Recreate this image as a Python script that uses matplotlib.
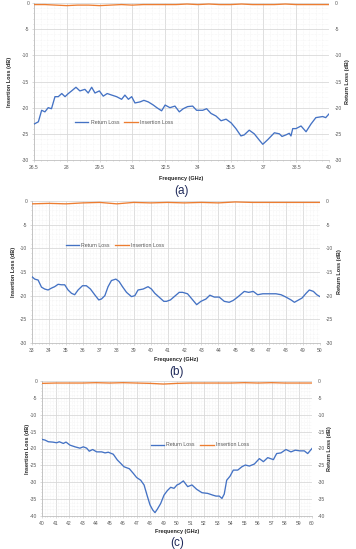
import matplotlib
matplotlib.use("Agg")
import matplotlib.pyplot as plt
import numpy as np
from matplotlib.ticker import MultipleLocator, AutoMinorLocator

plt.rcParams['axes.unicode_minus'] = False
plt.rcParams['font.family'] = ['Liberation Sans', 'DejaVu Sans']

# ---------------- Panel (a) ----------------
freq_a = [26.52, 26.7, 26.85, 27.0, 27.15, 27.3, 27.46, 27.61, 27.77, 27.92, 28.07, 28.22, 28.42,
          28.6, 28.83, 28.98, 29.14, 29.29, 29.49, 29.67, 29.85, 30.06, 30.28, 30.51, 30.66, 30.82,
          30.97, 31.12, 31.35, 31.53, 31.73, 31.96, 32.12, 32.34, 32.5, 32.72, 32.95, 33.15, 33.33,
          33.53, 33.76, 33.94, 34.22, 34.4, 34.6, 34.83, 35.06, 35.29, 35.52, 35.74, 35.97, 36.12,
          36.35, 36.58, 36.81, 36.97, 37.2, 37.5, 37.73, 37.85, 38.03, 38.18, 38.26, 38.34, 38.49,
          38.72, 38.95, 39.18, 39.4, 39.71, 39.85, 40.0]
rl_a = [-23.1, -22.7, -20.5, -20.8, -20.0, -20.2, -17.9, -17.9, -17.3, -17.9, -17.3, -16.8, -16.1,
        -16.8, -16.5, -17.2, -16.1, -17.2, -16.8, -17.8, -17.3, -17.6, -17.9, -18.4, -17.6, -18.4,
        -17.9, -19.1, -18.9, -18.6, -18.9, -19.5, -20.0, -20.6, -19.5, -20.0, -19.7, -20.8, -20.2,
        -19.8, -19.7, -20.5, -20.5, -20.2, -21.1, -21.6, -22.5, -22.2, -22.9, -24.0, -25.4, -25.2,
        -24.3, -25.0, -26.2, -27.0, -26.1, -24.8, -25.0, -25.5, -25.2, -24.9, -25.4, -24.0, -24.0,
        -23.5, -24.6, -23.1, -21.9, -21.7, -21.9, -21.2]
il_freq_a = [26.5, 27.0, 27.5, 28.0, 28.5, 29.0, 29.5, 30.0, 30.5, 31.0, 31.5, 32.0, 32.5, 33.0,
             33.5, 34.0, 34.5, 35.0, 35.5, 36.0, 36.5, 37.0, 37.5, 38.0, 38.5, 39.0, 39.5, 40.0]
il_a = [-0.3, -0.3, -0.4, -0.5, -0.4, -0.4, -0.5, -0.4, -0.3, -0.4, -0.3, -0.3, -0.3, -0.3,
        -0.2, -0.3, -0.2, -0.3, -0.3, -0.2, -0.3, -0.3, -0.3, -0.2, -0.3, -0.3, -0.3, -0.3]
xt_a = [26.5, 28, 29.5, 31, 32.5, 34, 35.5, 37, 38.5, 40]

# ---------------- Panel (b) ----------------
freq_b = [33.0, 33.16, 33.36, 33.56, 33.75, 33.95, 34.15, 34.34, 34.54, 34.74, 34.93, 35.13, 35.33,
          35.52, 35.72, 35.98, 36.21, 36.45, 36.7, 36.94, 37.1, 37.3, 37.49, 37.69, 37.95, 38.14,
          38.34, 38.58, 38.87, 39.07, 39.26, 39.56, 39.85, 40.05, 40.25, 40.5, 40.78, 40.94, 41.17,
          41.43, 41.69, 41.89, 42.18, 42.44, 42.72, 42.97, 43.27, 43.5, 43.76, 44.05, 44.35, 44.64,
          44.88, 45.14, 45.53, 45.79, 46.06, 46.32, 46.62, 47.01, 47.4, 47.7, 47.99, 48.29, 48.49,
          48.74, 48.94, 49.18, 49.37, 49.61, 49.81, 50.0]
rl_b = [-16.0, -16.5, -16.7, -18.2, -18.6, -18.8, -18.4, -18.1, -17.6, -17.7, -17.7, -18.8, -19.5,
        -19.8, -18.8, -17.9, -17.9, -18.6, -19.8, -20.9, -20.7, -20.0, -18.1, -16.8, -16.5, -17.0,
        -18.1, -19.3, -20.2, -20.0, -18.8, -18.6, -18.1, -18.6, -19.5, -20.3, -21.2, -21.2, -20.9,
        -20.1, -19.3, -19.3, -19.6, -20.7, -21.9, -21.2, -20.7, -19.9, -20.3, -20.3, -21.2, -21.4,
        -21.0, -20.3, -19.1, -19.3, -19.1, -19.8, -19.6, -19.6, -19.6, -19.8, -20.3, -20.9, -21.4,
        -20.9, -20.5, -19.5, -18.8, -19.1, -19.8, -20.2]
il_freq_b = [33, 34, 35, 36, 37, 38, 39, 40, 41, 42, 43, 44, 45, 46, 47, 48, 49, 50]
il_b = [-0.6, -0.5, -0.6, -0.4, -0.3, -0.6, -0.3, -0.4, -0.3, -0.4, -0.3, -0.4, -0.2, -0.3,
        -0.3, -0.3, -0.3, -0.3]
xt_b = list(range(33, 51))

# ---------------- Panel (c) ----------------
freq_c = [40.0, 40.22, 40.47, 40.79, 41.09, 41.28, 41.58, 41.78, 42.07, 42.44, 42.81, 43.06, 43.31,
          43.5, 43.75, 44.05, 44.42, 44.67, 44.91, 45.28, 45.58, 45.83, 46.07, 46.47, 46.77, 47.01,
          47.31, 47.56, 47.8, 48.0, 48.2, 48.37, 48.54, 48.79, 49.04, 49.28, 49.53, 49.78, 50.0,
          50.17, 50.47, 50.79, 51.11, 51.46, 51.85, 52.27, 52.64, 52.89, 53.13, 53.33, 53.5, 53.68,
          53.93, 54.17, 54.5, 54.81, 55.06, 55.36, 55.73, 56.1, 56.4, 56.72, 57.14, 57.38, 57.7,
          58.07, 58.44, 58.76, 59.11, 59.43, 59.68, 60.0]
rl_c = [-17.3, -17.5, -18.0, -18.1, -18.3, -18.0, -18.5, -18.1, -19.0, -19.5, -19.9, -19.5, -19.9,
        -20.8, -20.3, -21.0, -21.0, -21.3, -21.1, -21.7, -23.4, -24.4, -25.4, -26.0, -27.4, -28.6,
        -29.4, -30.8, -34.1, -36.7, -38.2, -39.0, -38.0, -36.3, -33.8, -32.5, -31.5, -31.8, -30.8,
        -30.5, -29.6, -31.3, -30.8, -32.1, -33.1, -33.3, -33.8, -34.1, -34.1, -34.8, -33.5, -29.4,
        -28.2, -26.4, -26.4, -25.4, -24.9, -25.2, -24.6, -23.0, -23.9, -22.7, -23.3, -21.5, -21.3,
        -20.3, -21.0, -20.5, -20.7, -20.7, -21.5, -20.0]
il_freq_c = [40, 41, 42, 43, 44, 45, 46, 47, 48, 49, 50, 51, 52, 53, 54, 55, 56, 57, 58, 59, 60]
il_c = [-0.7, -0.6, -0.6, -0.6, -0.5, -0.6, -0.5, -0.6, -0.7, -0.9, -0.7, -0.6, -0.6, -0.6,
        -0.6, -0.5, -0.6, -0.5, -0.6, -0.6, -0.6]
xt_c = list(range(40, 61))

BLUE = '#4472C4'
ORANGE = '#ED7D31'
GRID = '#D9D9D9'
TXT = '#595959'

W, H = 356, 549
fig = plt.figure(figsize=(W / 100, H / 100), dpi=100)


def px_axes(left, top, right, bottom):
    return fig.add_axes([left / W, 1 - bottom / H, (right - left) / W, (bottom - top) / H])


def panel(box, fx, ry, ifx, iy, xticks, ymin, leg_pos, xlab_y, cap_y, cap, ylab_x, rlab_x):
    ax = px_axes(*box)
    ax.plot(fx, ry, color=BLUE, lw=0.95, label='Return Loss', zorder=3)
    ax.plot(ifx, iy, color=ORANGE, lw=0.95, label='Insertion Loss', zorder=3)
    ax.set_xlim(xticks[0], xticks[-1])
    ax.set_ylim(ymin, 0)
    ax.set_xticks(xticks)
    ax.set_xticklabels([('%g' % t) for t in xticks])
    ax.yaxis.set_major_locator(MultipleLocator(5))
    ax.xaxis.set_minor_locator(AutoMinorLocator(5))
    ax.yaxis.set_minor_locator(AutoMinorLocator(5))
    ax.grid(True, which='major', color=GRID, lw=0.6)
    ax.grid(True, which='minor', color='#EDEDED', lw=0.4, ls=(0, (1, 1.5)))
    ax.set_axisbelow(True)
    for s in ['top', 'right']:
        ax.spines[s].set_visible(False)
    for s in ['left', 'bottom']:
        ax.spines[s].set_color('#BFBFBF')
        ax.spines[s].set_linewidth(0.6)
    ax.tick_params(axis='both', which='both', labelsize=3.6, colors='#BFBFBF',
                   labelcolor=TXT, length=1.5, width=0.4, pad=2)
    ax.tick_params(which='minor', length=1.0)
    ax2 = ax.twinx()
    ax2.set_ylim(ymin, 0)
    ax2.yaxis.set_major_locator(MultipleLocator(5))
    for s in ['top', 'right', 'left', 'bottom']:
        ax2.spines[s].set_visible(False)
    ax2.tick_params(axis='y', labelsize=3.6, labelcolor=TXT, length=0, pad=4)
    leg = ax.legend(loc='center', bbox_to_anchor=leg_pos, ncol=2, frameon=False,
                    fontsize=3.8, handlelength=2.6, columnspacing=1.0, handletextpad=0.4)
    for t in leg.get_texts():
        t.set_color(TXT)
    fig.text(ylab_x / W, 1 - ((box[1] + box[3]) / 2) / H, 'Insertion Loss (dB)', rotation=90,
             ha='center', va='center', fontsize=4.0, fontweight='bold', color='#262626')
    fig.text(rlab_x / W, 1 - ((box[1] + box[3]) / 2) / H, 'Return Loss (dB)', rotation=90,
             ha='center', va='center', fontsize=4.0, fontweight='bold', color='#262626')
    fig.text(((box[0] + box[2]) / 2) / W, 1 - xlab_y / H, 'Frequency (GHz)', ha='center',
             va='center', fontsize=4.0, fontweight='bold', color='#262626')
    fig.text(((box[0] + box[2]) / 2) / W, 1 - cap_y / H, cap, ha='center', va='center',
             fontsize=8.5, color='#1F2A5A')
    return ax


panel((34, 3, 329, 160), freq_a, rl_a, il_freq_a, il_a, xt_a, -30, (0.305, 0.242),
      178, 191, '(a)', 10, 348)
panel((32, 201, 320, 343), freq_b, rl_b, il_freq_b, il_b, xt_b, -30, (0.288, 0.69),
      359, 372, '(b)', 14, 340)
panel((42, 381, 312, 516), freq_c, rl_c, il_freq_c, il_c, xt_c, -40, (0.585, 0.526),
      531, 543, '(c)', 27, 329)

fig.savefig('out.png', dpi=100, facecolor='white')
